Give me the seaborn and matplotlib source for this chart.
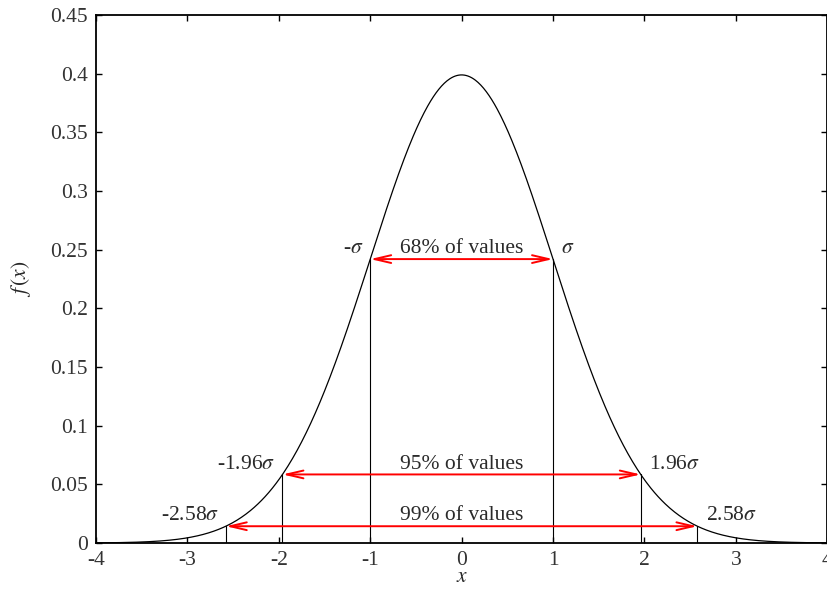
import numpy as np
import pandas as pd
import seaborn as sns
import matplotlib
matplotlib.use("Agg")
import matplotlib.pyplot as plt

# Standard normal density and the usual coverage intervals
x_range = (-4.0, 4.0)
interval_bounds = [1.0, 1.96, 2.58]
coverage_labels = ["68% of values", "95% of values", "99% of values"]
left_labels = [r"-$\sigma$", r"-1.96$\sigma$", r"-2.58$\sigma$"]
right_labels = [r"$\sigma$", r"1.96$\sigma$", r"2.58$\sigma$"]
x_ticks = [-4, -3, -2, -1, 0, 1, 2, 3, 4]
y_ticks = [0, 0.05, 0.1, 0.15, 0.2, 0.25, 0.3, 0.35, 0.4, 0.45]


def density(x):
    return np.exp(-0.5 * np.asarray(x) ** 2) / np.sqrt(2 * np.pi)


xs = np.linspace(x_range[0], x_range[1], 801)
curve = pd.DataFrame({"x": xs, "f": density(xs)})

FS = 15.5

sns.set_theme(style="ticks")
plt.rcParams.update({
    "font.family": ["Liberation Serif", "DejaVu Serif"],
    "mathtext.fontset": "stix",
    "axes.unicode_minus": False,
    "font.size": FS,
    "xtick.direction": "in",
    "ytick.direction": "in",
    "xtick.top": True,
    "ytick.right": True,
    "xtick.major.size": 4.5,
    "ytick.major.size": 4.5,
    "xtick.major.width": 1.0,
    "ytick.major.width": 1.0,
    "axes.linewidth": 1.3,
    "axes.edgecolor": "black",
    "xtick.color": "black",
    "ytick.color": "black",
    "xtick.labelcolor": "#333333",
    "ytick.labelcolor": "#333333",
    "text.color": "#2a2a2a",
})

fig = plt.figure(figsize=(8.28, 5.93), dpi=100)
ax = fig.add_axes([0.116, 0.0843, 0.883, 0.8904])

sns.lineplot(data=curve, x="x", y="f", color="black", linewidth=0.9, ax=ax)

for b, mid, lt, rt in zip(interval_bounds, coverage_labels, left_labels, right_labels):
    h = float(density(b))
    # vertical drop lines from the axis to the curve
    ax.plot([-b, -b], [0, h], color="black", linewidth=0.8)
    ax.plot([b, b], [0, h], color="black", linewidth=0.8)
    # interval arrow
    ax.annotate("", xy=(b, h), xytext=(-b, h),
                arrowprops=dict(arrowstyle="<->,head_length=1.2,head_width=0.28",
                                color="red", linewidth=1.4, mutation_scale=10,
                                shrinkA=0, shrinkB=0))
    ax.annotate(mid, xy=(0, h), xytext=(0, 7.5), textcoords="offset points",
                ha="center", va="center", fontsize=FS)
    ax.annotate(lt, xy=(-b, h), xytext=(-5, 7.5), textcoords="offset points",
                ha="right", va="center", fontsize=FS)
    ax.annotate(rt, xy=(b, h), xytext=(6, 7.5), textcoords="offset points",
                ha="left", va="center", fontsize=FS)

ax.set_xlim(*x_range)
ax.set_ylim(0, 0.45)
ax.set_xticks(x_ticks)
ax.set_xticklabels([f"{t:g}" for t in x_ticks])
ax.set_yticks(y_ticks)
ax.set_yticklabels([f"{t:g}" for t in y_ticks])
ax.tick_params(axis="x", labelsize=FS, pad=5.5)
ax.tick_params(axis="y", labelsize=FS, pad=6)
ax.set_xlabel(r"$x$", fontsize=FS, labelpad=-1)
ax.set_ylabel(r"$f\,(x)$", fontsize=FS, labelpad=12)
for s in ax.spines.values():
    s.set_visible(True)
    s.set_color("black")

fig.savefig("out.png", dpi=100)
